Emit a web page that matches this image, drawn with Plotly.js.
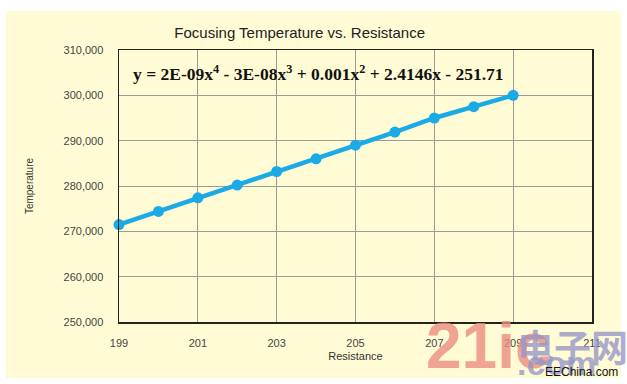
<!DOCTYPE html>
<html>
<head>
<meta charset="utf-8">
<script src="https://cdn.plot.ly/plotly-3.0.1.min.js"></script>
<style>html,body{margin:0;padding:0;background:#fff;}#chart{width:627px;height:384px;}</style>
</head>
<body>
<div id="chart"></div>
<script>
const resistance = [199, 200, 201, 202, 203, 204, 205, 206, 207, 208, 209];
const temperature = [271500, 274400, 277400, 280200, 283200, 286000, 289000, 291900, 295000, 297500, 300000];
const xTicks = [199, 201, 203, 205, 207, 209, 211];
const yTicks = [250000, 260000, 270000, 280000, 290000, 300000, 310000];
const yTickLabels = ['250,000', '260,000', '270,000', '280,000', '290,000', '300,000', '310,000'];

const trace = {
  x: resistance, y: temperature, type: 'scatter', mode: 'lines+markers',
  line: {color: '#1AAAE6', width: 4.5},
  marker: {color: '#1AAAE6', size: 11},
  cliponaxis: false, hoverinfo: 'none'
};

const layout = {
  width: 627, height: 384,
  margin: {l: 119, r: 35, t: 50, b: 62},
  paper_bgcolor: '#ffffff',
  plot_bgcolor: 'rgba(0,0,0,0)',
  showlegend: false,
  font: {family: 'Liberation Sans, Arial, sans-serif', color: '#333'},
  title: {text: 'Focusing Temperature vs. Resistance', x: 0.478, xanchor: 'center', y: 0.915, yanchor: 'middle',
          font: {size: 15, color: '#222', family: 'Liberation Sans, Arial, sans-serif'}},
  xaxis: {
    range: [199, 211], tickmode: 'array', tickvals: xTicks, ticktext: xTicks.map(String),
    showgrid: true, gridcolor: '#9a9a9a', gridwidth: 1,
    showline: true, linecolor: '#222', linewidth: 1.5, mirror: true,
    ticks: 'outside', ticklen: 10, tickcolor: 'rgba(0,0,0,0)',
    tickfont: {size: 11, color: '#444'}, zeroline: false,
    title: {text: 'Resistance', font: {size: 11, color: '#333'}, standoff: 4}
  },
  yaxis: {
    range: [250000, 310000], tickmode: 'array', tickvals: yTicks, ticktext: yTickLabels,
    showgrid: true, gridcolor: '#9a9a9a', gridwidth: 1,
    showline: true, linecolor: '#222', linewidth: 1.5, mirror: true,
    ticks: 'outside', ticklen: 12, tickcolor: 'rgba(0,0,0,0)',
    tickfont: {size: 11, color: '#444'}, zeroline: false,
    title: {text: 'Temperature', font: {size: 10, color: '#333'}, standoff: 28}
  },
  shapes: [{
    type: 'rect', xref: 'paper', yref: 'paper', layer: 'below',
    x0: -0.239, x1: 1.061, y0: -0.206, y1: 1.143,
    fillcolor: '#FFFCD5', line: {width: 0}
  }],
  annotations: [
    {xref: 'paper', yref: 'paper', x: 0.421, y: 0.915, xanchor: 'center', yanchor: 'middle', showarrow: false,
     text: '<b>y = 2E-09x<sup>4</sup> - 3E-08x<sup>3</sup> + 0.001x<sup>2</sup> + 2.4146x - 251.71</b>',
     font: {family: 'Liberation Serif, Times New Roman, serif', size: 17.5, color: '#111'}},
    {xref: 'paper', yref: 'paper', x: 0.645, y: -0.228, xanchor: 'left', yanchor: 'bottom', showarrow: false,
     text: '<b>21ic</b>', font: {family: 'Liberation Sans Narrow, Liberation Sans, Arial, sans-serif', size: 64, color: 'rgba(235,140,128,0.8)'}},
    {xref: 'paper', yref: 'paper', x: 0.838, y: -0.09, xanchor: 'left', yanchor: 'middle', showarrow: false,
     text: '<b>电子网</b>', font: {family: 'Noto Sans CJK SC, sans-serif', size: 37, color: 'rgba(150,150,200,0.8)'}},
    {xref: 'paper', yref: 'paper', x: 0.838, y: -0.228, xanchor: 'left', yanchor: 'bottom', showarrow: false,
     text: '<b>.com</b>', font: {family: 'Liberation Sans, Arial, sans-serif', size: 34, color: 'rgba(150,150,200,0.8)'}},
    {xref: 'paper', yref: 'paper', x: 1.059, y: -0.184, xanchor: 'right', yanchor: 'middle', showarrow: false,
     text: 'EEChina.com', font: {family: 'Liberation Sans, Arial, sans-serif', size: 12, color: '#111'}}
  ]
};

Plotly.newPlot('chart', [trace], layout, {staticPlot: true, displayModeBar: false});
</script>
</body>
</html>
